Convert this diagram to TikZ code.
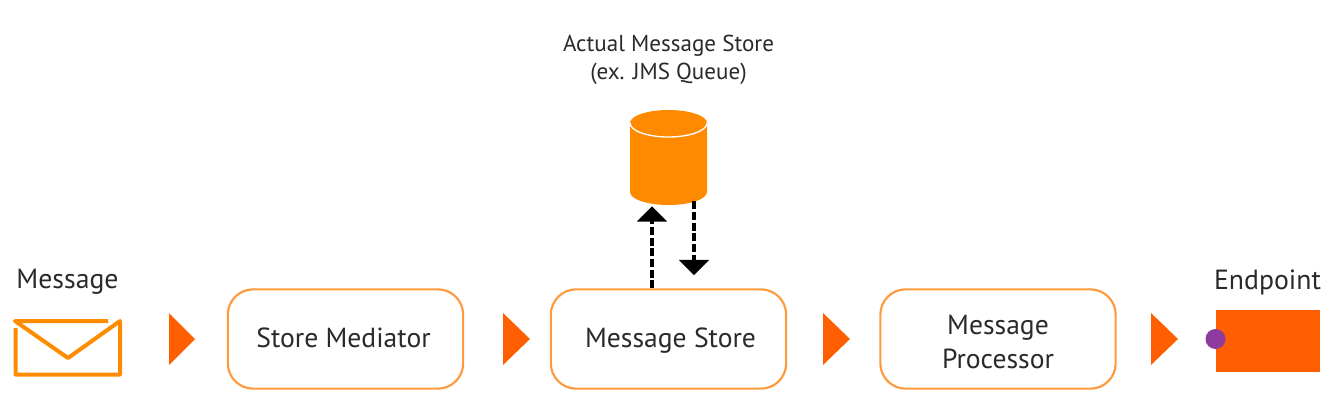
\documentclass[tikz,border=0pt]{standalone}
\usepackage{fontspec}
\setmainfont{PT Sans}
\usetikzlibrary{arrows.meta,calc}
\definecolor{boxline}{HTML}{FF9A3C}
\definecolor{env}{HTML}{FF8C00}
\definecolor{cyl}{HTML}{FF8A00}
\definecolor{tri}{HTML}{FF5F00}
\definecolor{dot}{HTML}{8E3A9E}
\definecolor{txt}{HTML}{2A2A2A}
\tikzset{
  x=0.75pt,y=-0.75pt,
  procbox/.style={draw=boxline,line width=1.6pt,rounded corners=19pt,minimum width=176.5pt,minimum height=74.5pt,inner sep=0pt,align=center,text=txt,font=\fontsize{20.7}{25.5}\selectfont},
  label/.style={text=txt,align=center,inner sep=0pt,font=\fontsize{20.8}{26}\selectfont},
  toplabel/.style={text=txt,align=center,inner sep=0pt,font=\fontsize{17.3}{21}\selectfont},
  flowtri/.style={fill=tri},
  dasharrow/.style={draw=black,line width=2.9pt,dash pattern=on 6pt off 2pt,-{Triangle[length=11.5pt,width=22pt,sep=0pt]}},
  envline/.style={draw=env,line width=3pt,line join=round},
  ghost/.style={inner sep=0pt,minimum width=57.75pt,minimum height=71.25pt},
}
\begin{document}
\begin{tikzpicture}
\useasboundingbox (0,0) rectangle (1331,400);
% text labels
\node[label] (msg) at (67.5,282) {Message};
\node[label] (ep) at (1267.5,282) {Endpoint};
\node[toplabel] (actual) at (668.5,60) {Actual Message Store\\(ex. JMS Queue)};
% envelope
\draw[envline] (108,321) -- (15,321) -- (68,358) -- (120,321) -- (120,374.5) -- (15.5,374.5) -- (15.5,328);
% boxes
\node[procbox] (store) at (345.5,339) {\hspace*{-3pt}\raisebox{0.5pt}[\height][\depth]{Store Mediator}};
\node[procbox] (mstore) at (668.5,339) {\hspace*{3pt}\raisebox{-1.5pt}[\height][\depth]{Message Store}};
\node[procbox] (proc) at (998,339) {\rule{0pt}{18.5pt}Message\\Processor};
% flow triangles
\fill[flowtri] (169,313) -- (195,339) -- (169,365) -- cycle;
\fill[flowtri] (503,313) -- (530,339) -- (503,365) -- cycle;
\fill[flowtri] (823,313) -- (850,339) -- (823,365) -- cycle;
\fill[flowtri] (1151,313) -- (1178,339) -- (1151,365) -- cycle;
% cylinder
\node[ghost] (db) at (668.5,157.5) {};
\fill[cyl] (630,123) -- (630,192) arc[start angle=180,end angle=360,x radius=38.5,y radius=-13] -- (707,123) -- cycle;
\fill[cyl] (668.5,123) ellipse[x radius=38.5,y radius=13];
\draw[white,line width=1pt] (630,123) arc[start angle=180,end angle=360,x radius=38.5,y radius=-14];
% endpoint
\node[fill=tri,minimum width=78pt,minimum height=46.5pt,inner sep=0pt] (endp) at (1268,341) {};
\node[circle,fill=dot,minimum size=15pt,inner sep=0pt] (port) at (1215.5,339) {};
% dashed connectors
\draw[dasharrow] ($(mstore.north)+(-16.5,0)$) -- ($(db.south)+(-16.5,1)$);
\draw[dasharrow] ($(db.south)+(25.5,-4)$) -- ($(mstore.north)+(25.5,-13)$);
\end{tikzpicture}
\end{document}
